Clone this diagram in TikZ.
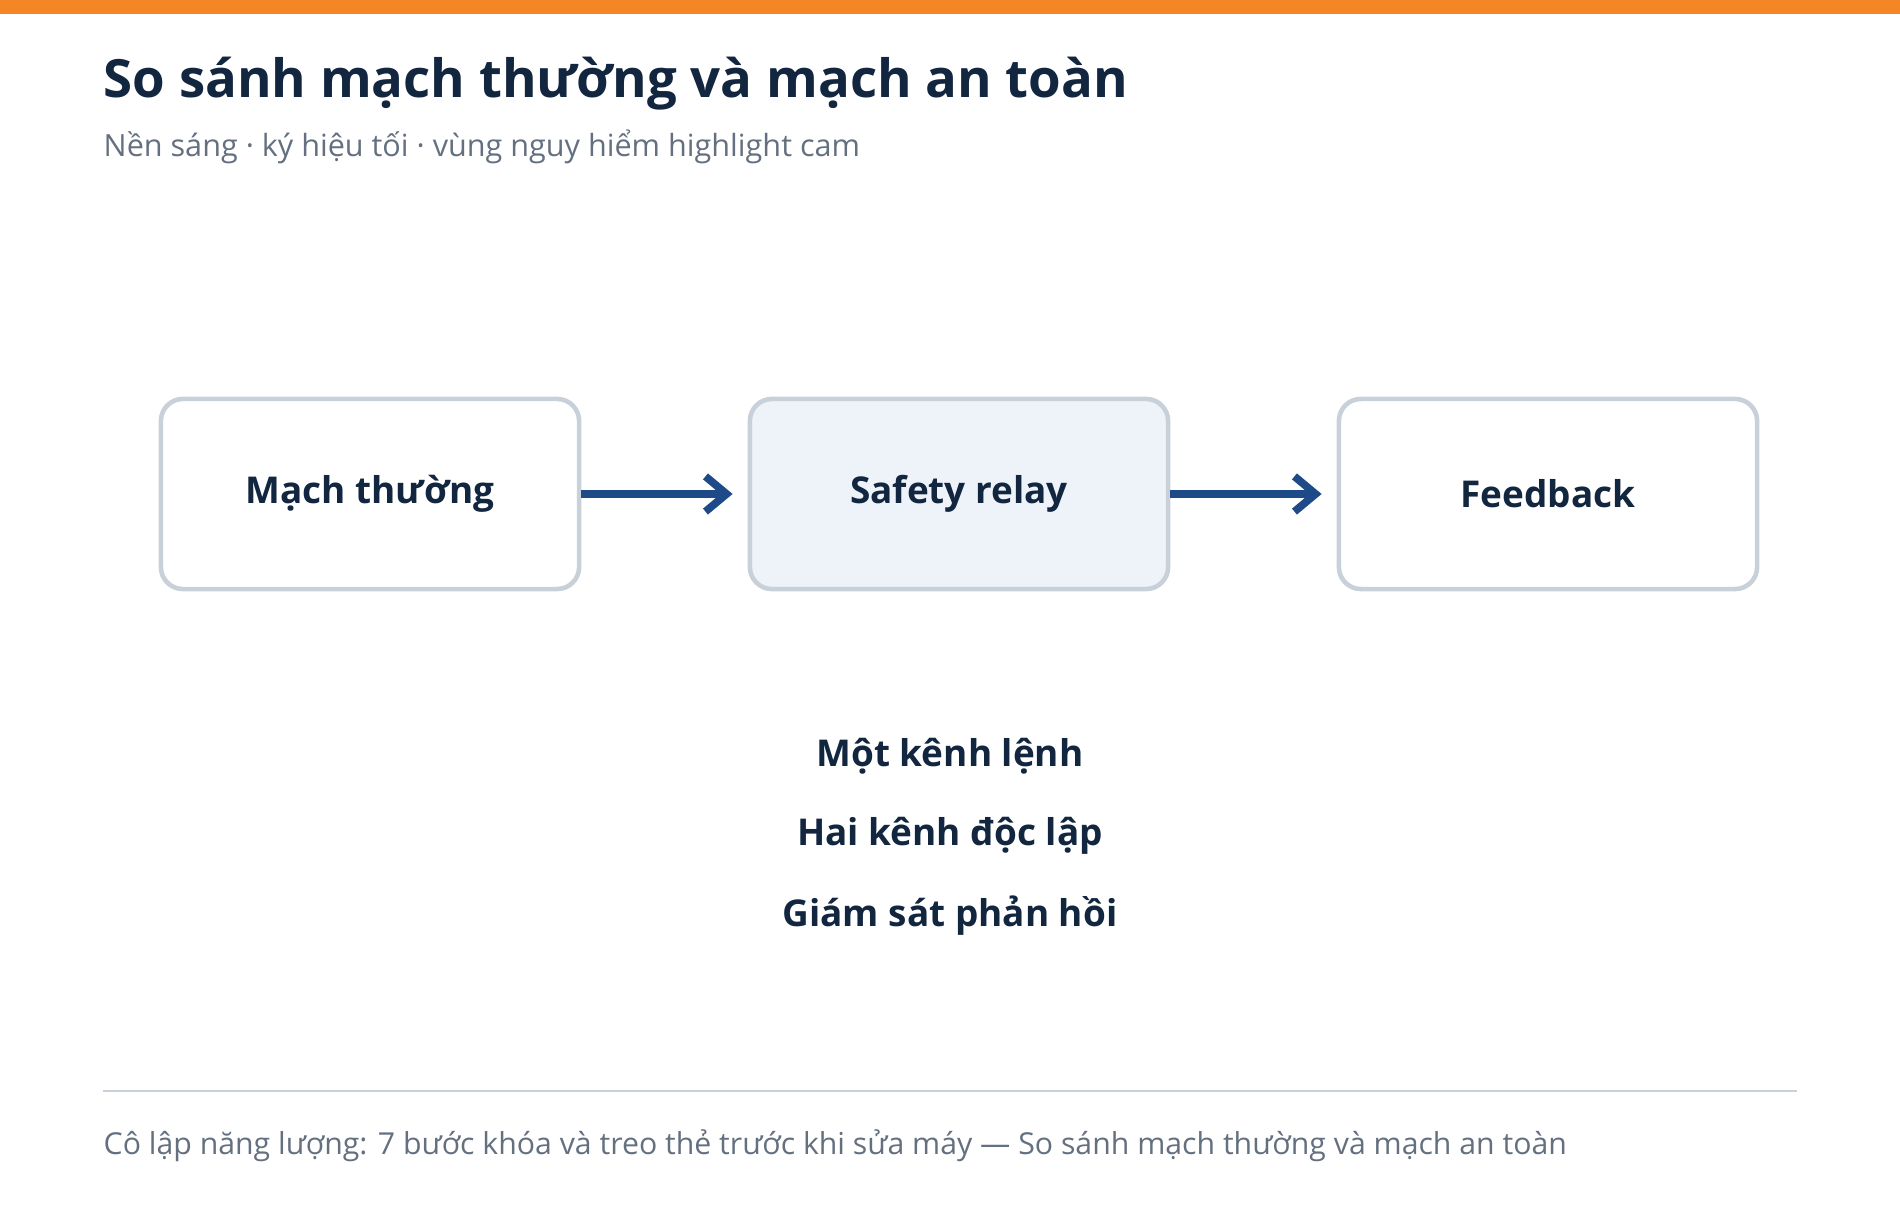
\documentclass[tikz,border=0pt]{standalone}
\usepackage{fontspec}
\setmainfont{Open Sans}
\definecolor{ink}{RGB}{18, 38, 64}
\definecolor{sub}{RGB}{100, 112, 128}
\definecolor{edge}{RGB}{200, 208, 218}
\definecolor{pale}{RGB}{238, 243, 250}
\definecolor{arr}{RGB}{30, 74, 135}
\definecolor{topbar}{RGB}{245, 134, 38}
\usetikzlibrary{arrows.meta, positioning}

\begin{document}
\begin{tikzpicture}[x=0.01cm, y=-0.01cm,
        box/.style={draw=edge, line width=1.3pt, rounded corners=0.22cm, fill=white,
                    minimum width=4.18cm, minimum height=1.90cm,
                    font=\fontsize{10.5}{13}\selectfont\bfseries, text=ink},
        hot/.style={box, fill=pale},
        link/.style={draw=arr, line width=2.2pt, -{Straight Barb[length=6pt, width=10pt]}},
        note/.style={font=\fontsize{10.5}{13}\selectfont\bfseries, text=ink}]
  \useasboundingbox (0,0) rectangle (1900,1216);
  \fill[topbar] (0,0) rectangle (1900,14);
  % title
  \node[anchor=base west, inner sep=0pt, font=\fontsize{15}{18}\selectfont\bfseries, text=ink] (title) at (103,98) {So sánh mạch thường và mạch an toàn};
  \node[anchor=base west, inner sep=0pt, font=\fontsize{8.7}{11}\selectfont, text=sub] (subtitle) at (103,157) {Nền sáng · ký hiệu tối · vùng nguy hiểm highlight cam};
  % chain
  \node[box] (normal) at (370,494) {Mạch thường};
  \node[hot] (relay) at (959,494) {Safety relay};
  \node[box] (fb) at (1548,494) {Feedback};
  \draw[link] (normal.east) -- ([xshift=-0.15cm]relay.west);
  \draw[link] (relay.east) -- ([xshift=-0.15cm]fb.west);
  % notes
  \node[note] (n1) at (950,756) {Một kênh lệnh};
  \node[note] (n2) at (950,836) {Hai kênh độc lập};
  \node[note] (n3) at (950,916) {Giám sát phản hồi};
  % footer
  \coordinate (rl) at (103,1091);
  \coordinate (rr) at (1797,1091);
  \draw[edge, line width=0.8pt] (rl) -- (rr);
  \node[anchor=base west, inner sep=0pt, font=\fontsize{8.6}{11}\selectfont, text=sub] (foot) at (103,1154) {Cô lập năng lượng: 7 bước khóa và treo thẻ trước khi sửa máy — So sánh mạch thường và mạch an toàn};
\end{tikzpicture}
\end{document}
